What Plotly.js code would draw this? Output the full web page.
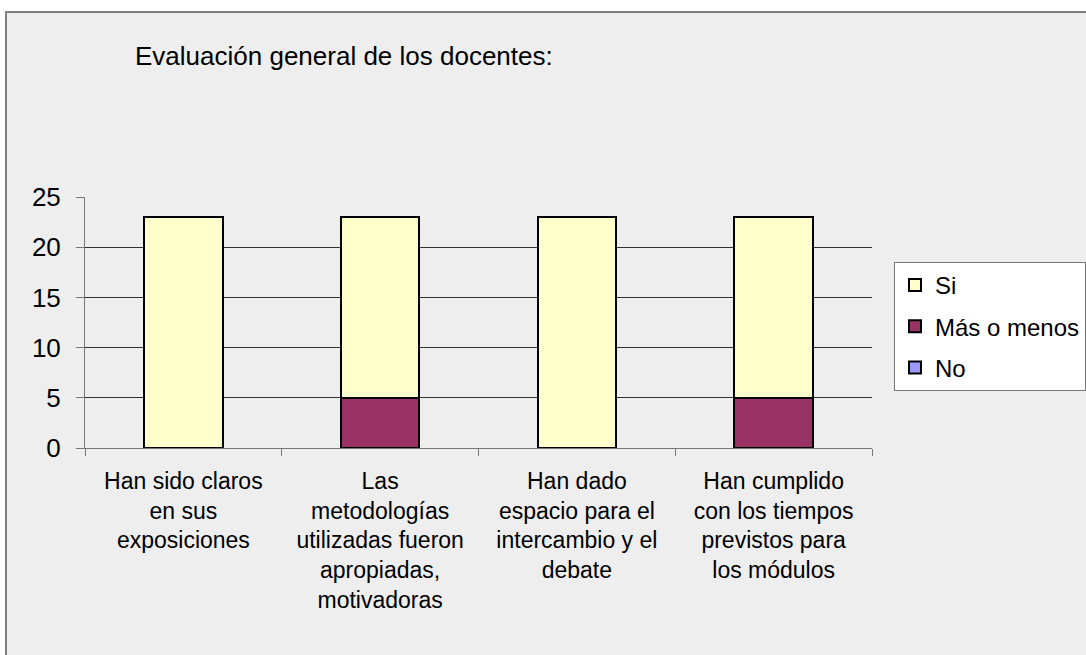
<!DOCTYPE html>
<html>
<head>
<meta charset="utf-8">
<script src="https://cdn.plot.ly/plotly-3.0.1.min.js"></script>
<style>
  html, body { margin: 0; padding: 0; background: #ffffff; }
  #chart { width: 1086px; height: 655px; }
</style>
</head>
<body>
<div id="chart"></div>
<script>
const categories = [
  "Han sido claros<br>en sus<br>exposiciones",
  "Las<br>metodologías<br>utilizadas fueron<br>apropiadas,<br>motivadoras",
  "Han dado<br>espacio para el<br>intercambio y el<br>debate",
  "Han cumplido<br>con los tiempos<br>previstos para<br>los módulos"
];
const seriesNames = ["No", "Más o menos", "Si"];
const noValues = [0, 0, 0, 0];
const masOMenosValues = [0, 5, 0, 5];
const siValues = [23, 18, 23, 18];
const seriesColors = ["#9999ff", "#993366", "#ffffcc"];
const legendRanks = [3, 2, 1];
const yTickValues = [0, 5, 10, 15, 20, 25];
const titleText = "Evaluación general de los docentes:";

const FONT = "Liberation Sans, Arial, sans-serif";
const valuesList = [noValues, masOMenosValues, siValues];

const traces = seriesNames.map((name, i) => ({
  type: "bar",
  name: name,
  x: categories,
  y: valuesList[i],
  legendgroup: "g" + i,
  legendrank: legendRanks[i],
  marker: { color: seriesColors[i], line: { color: "#000000", width: 2 } },
  hoverinfo: "none"
}));

const layout = {
  width: 1086,
  height: 655,
  margin: { l: 85, r: 214, t: 197, b: 207, pad: 0, autoexpand: false },
  paper_bgcolor: "#ffffff",
  plot_bgcolor: "rgba(0,0,0,0)",
  barmode: "stack",
  bargap: 0.6,
  font: { family: FONT, color: "#000000" },
  title: {
    text: titleText,
    font: { family: FONT, size: 26, color: "#000000" },
    xref: "container", yref: "container",
    x: 135 / 1086, xanchor: "left",
    y: 1 - 56 / 655, yanchor: "middle"
  },
  xaxis: {
    type: "category",
    tickangle: 0,
    tickson: "boundaries",
    ticks: "outside",
    ticklen: 7,
    tickcolor: "#777777",
    showline: true,
    linecolor: "#777777",
    linewidth: 1,
    showgrid: false,
    ticklabelstandoff: 12,
    tickfont: { family: FONT, size: 23, color: "#000000" },
    fixedrange: true
  },
  yaxis: {
    range: [0, 25],
    tickvals: yTickValues,
    ticks: "outside",
    ticklen: 8,
    tickcolor: "#777777",
    showline: true,
    linecolor: "#777777",
    linewidth: 1,
    showgrid: true,
    gridcolor: "#333333",
    gridwidth: 1,
    zeroline: false,
    ticklabelstandoff: 10,
    tickfont: { family: FONT, size: 26, color: "#000000" },
    fixedrange: true
  },
  legend: {
    xref: "container", yref: "container",
    x: 894 / 1086, xanchor: "left",
    y: 1 - 262 / 655, yanchor: "top",
    bgcolor: "#ffffff",
    bordercolor: "#777777",
    borderwidth: 1,
    traceorder: "grouped",
    tracegroupgap: 7,
    font: { family: FONT, size: 24, color: "#000000" }
  },
  shapes: [{
    type: "rect", layer: "below",
    xref: "paper", yref: "paper",
    x0: (6 - 85) / 787, x1: (1100 - 85) / 787,
    y0: (448 - 700) / 251, y1: (448 - 12) / 251,
    fillcolor: "#eeeeee",
    line: { color: "#808080", width: 2 }
  }],
  showlegend: true
};

Plotly.newPlot("chart", traces, layout, { staticPlot: true, displayModeBar: false });
</script>
</body>
</html>
